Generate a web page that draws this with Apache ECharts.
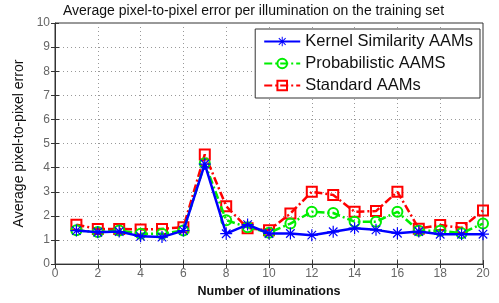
<!DOCTYPE html>
<html>
<head>
<meta charset="utf-8">
<script src="https://cdn.jsdelivr.net/npm/echarts@6/dist/echarts.min.js"></script>
<style>
  html, body { margin: 0; padding: 0; background: #fff; }
  #main { width: 499px; height: 303px; }
</style>
</head>
<body>
<div id="main"></div>
<script>
let illuminations = [1,2,3,4,5,6,7,8,9,10,11,12,13,14,15,16,17,18,19,20]
let kernelAAM = [1.39,1.32,1.35,1.15,1.12,1.39,4.15,1.26,1.64,1.27,1.27,1.2,1.34,1.49,1.42,1.28,1.35,1.24,1.24,1.24]
let probAAM = [1.4,1.33,1.39,1.26,1.26,1.39,4.18,1.82,1.53,1.3,1.68,2.17,2.12,1.76,1.76,2.17,1.38,1.38,1.28,1.68]
let standardAAM = [1.63,1.46,1.46,1.43,1.46,1.53,4.55,2.4,1.49,1.4,2.1,3.0,2.87,2.17,2.2,3.0,1.47,1.62,1.5,2.22]
let seriesNames = ['Kernel Similarity AAMs','Probabilistic AAMS','Standard AAMs']

// matlab style asterisk
let star = 'path://M0 9H20V11H0Z M9 0H11V20H9Z M2.2 3.6L3.6 2.2L17.8 16.4L16.4 17.8Z M16.4 2.2L17.8 3.6L3.6 17.8L2.2 16.4Z'

function pairs(vals){
  return vals.map((v,i)=>[illuminations[i], v])
}

var myChart = echarts.init(document.getElementById('main'));
var font = 'Liberation Sans, Arial'
var txt = {fontFamily:font, color:'#666', fontSize:12}
var gridLine = {show:true, lineStyle:{color:'#999', type:[1,3], width:1}}
myChart.setOption({
  animation:false,
  backgroundColor:'#fff',
  title:{
    text:'Average pixel-to-pixel error per illumination on the training set',
    left:58, top:-1,
    textStyle:{fontFamily:font, fontSize:14, fontWeight:'normal', color:'#111'}
  },
  grid:{left:55, right:16, top:23, bottom:32, show:true, borderColor:'#333', borderWidth:1, backgroundColor:'#fff'},
  legend:{
    right:19, top:29, orient:'vertical', itemGap:5, itemWidth:36, itemHeight:12,
    padding:[4,7,4,8],
    backgroundColor:'#fff', borderColor:'#333', borderWidth:1,
    textStyle:{fontFamily:font, fontSize:16.5, color:'#111'},
    data:seriesNames
  },
  xAxis:[{
    type:'value', min:0, max:20, interval:2,
    name:'Number of illuminations', nameLocation:'middle', nameGap:20,
    nameTextStyle:{fontFamily:font, fontSize:12.5, fontWeight:'bold', color:'#111'},
    axisLine:{lineStyle:{color:'#333'}},
    axisTick:{inside:true, length:4, lineStyle:{color:'#333'}},
    axisLabel:Object.assign({margin:4}, txt),
    splitLine:gridLine
  },{
    type:'value', min:0, max:20, interval:2, position:'top',
    axisLine:{show:false}, axisLabel:{show:false}, splitLine:{show:false},
    axisTick:{inside:true, length:4, lineStyle:{color:'#333'}}
  }],
  yAxis:[{
    type:'value', min:0, max:10, interval:1,
    name:'Average pixel-to-pixel error', nameLocation:'middle', nameGap:23,
    nameTextStyle:{fontFamily:font, fontSize:14, fontWeight:'normal', color:'#111'},
    axisLine:{show:true, lineStyle:{color:'#333'}},
    axisTick:{show:true, inside:true, length:4, lineStyle:{color:'#333'}},
    axisLabel:Object.assign({margin:5}, txt),
    splitLine:gridLine
  },{
    type:'value', min:0, max:10, interval:1, position:'right',
    axisLine:{show:false}, axisLabel:{show:false}, splitLine:{show:false},
    axisTick:{show:true, inside:true, length:4, lineStyle:{color:'#333'}}
  }],
  series:[{
    name:seriesNames[0], type:'line', data:pairs(kernelAAM),
    symbol:star, symbolSize:12, z:4,
    lineStyle:{color:'#0000ff', width:2.5},
    itemStyle:{color:'#0000ff'}
  },{
    name:seriesNames[1], type:'line', data:pairs(probAAM),
    symbol:'circle', symbolSize:10, z:3,
    lineStyle:{color:'#00ee00', width:2.5, type:[8,3,2,3]},
    itemStyle:{color:'rgba(255,255,255,0)', borderColor:'#00ee00', borderWidth:2}
  },{
    name:seriesNames[2], type:'line', data:pairs(standardAAM),
    symbol:'rect', symbolSize:10, z:2,
    lineStyle:{color:'#ff0000', width:2.5, type:[8,3,2,3]},
    itemStyle:{color:'rgba(255,255,255,0)', borderColor:'#ff0000', borderWidth:2}
  }]
});
</script>
</body>
</html>
